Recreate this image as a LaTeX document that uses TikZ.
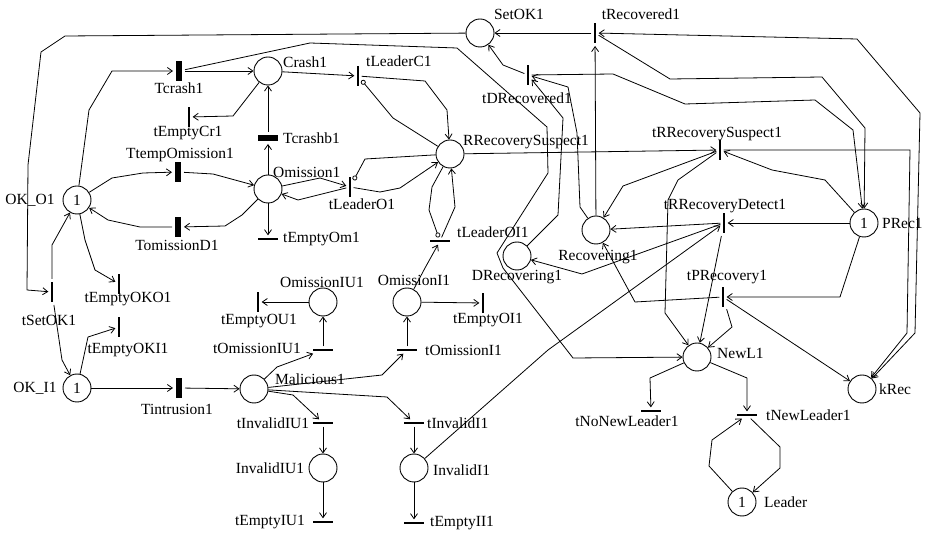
\documentclass[tikz,border=0pt]{standalone}
\usepackage{fontspec}
\setmainfont{Liberation Serif}
\usetikzlibrary{arrows.meta}
\begin{document}
\begin{tikzpicture}[x=1pt,y=-1pt,
  every node/.style={font=\fontsize{15.5}{17}\selectfont},
  place/.style={circle,draw,line width=0.9pt,minimum size=28pt,inner sep=0pt},
  tv/.style={rectangle,fill=black,minimum width=1.3pt,minimum height=20pt,inner sep=0pt,outer sep=3pt},
  th/.style={rectangle,fill=black,minimum width=20pt,minimum height=1.3pt,inner sep=0pt,outer sep=3pt},
  Tv/.style={rectangle,fill=black,minimum width=6pt,minimum height=20pt,inner sep=0pt,outer sep=3pt},
  Th/.style={rectangle,fill=black,minimum width=20pt,minimum height=6pt,inner sep=0pt,outer sep=3pt},
  lab/.style={inner sep=0pt},
  arc/.style={-{Straight Barb[length=5pt,width=7pt]},line width=0.8pt},
  inh/.style={-{Circle[open,length=5pt,width=5pt]},line width=0.8pt},
  twoway/.style={{Straight Barb[length=5pt,width=7pt]}-{Straight Barb[length=5pt,width=7pt]},line width=0.8pt},
  line join=round]
\useasboundingbox (0,0) rectangle (930,534);

% ---------- places ----------
\node[place] (SetOK) at (480,33) {};
\node[place] (Crash) at (268,71) {};
\node[place] (Omission) at (268,189) {};
\node[place] (OKO) at (77,200) {1};
\node[place] (OKI) at (77,388) {1};
\node[place] (Malicious) at (254,389) {};
\node[place] (OmissionIU) at (323,302) {};
\node[place] (OmissionI) at (407,302) {};
\node[place] (InvalidIU) at (323,468) {};
\node[place] (InvalidI) at (414,468) {};
\node[place] (RRS) at (450,154) {};
\node[place] (DRec) at (517,256) {};
\node[place] (Rec) at (596,230) {};
\node[place] (PRec) at (864,223) {1};
\node[place] (NewL) at (697,357) {};
\node[place] (Leader) at (742,502) {1};
\node[place] (kRec) at (862,389) {};

% ---------- transitions ----------
\node[tv] (tRecovered) at (595,33) {};
\node[Tv] (Tcrash) at (179,71) {};
\node[tv] (tEmptyCr) at (189,117) {};
\node[Th] (Tcrashb) at (268,138) {};
\node[Tv] (TtempOm) at (178,172) {};
\node[Tv] (TomD) at (178,227) {};
\node[th] (tEmptyOm) at (268,239) {};
\node[tv] (tEmptyOKO) at (119,284) {};
\node[tv] (tSetOK) at (52,292) {};
\node[tv] (tEmptyOKI) at (119,327) {};
\node[Tv] (Tintr) at (179,388) {};
\node[th] (tOmIU) at (323,350) {};
\node[tv] (tEmptyOU) at (258,302) {};
\node[th] (tOmI) at (407,350) {};
\node[tv] (tEmptyOI) at (483,303) {};
\node[th] (tLeaderOI) at (440,241) {};
\node[tv] (tLeaderC) at (358,76) {};
\node[tv] (tLeaderO) at (350,187) {};
\node[tv] (tDRecovered) at (528,75) {};
\node[tv] (tRRS) at (720,150) {};
\node[tv] (tRRD) at (724,223) {};
\node[tv] (tPRec) at (723,297) {};
\node[th] (tNoNewL) at (651,411) {};
\node[th] (tNewL) at (747,415) {};
\node[th] (tInvalidIU) at (323,423) {};
\node[th] (tEmptyIU) at (323,522) {};
\node[th] (tInvalidI) at (414,423) {};
\node[th] (tEmptyII) at (414,523) {};

% ---------- labels ----------
\node[lab] (lSetOK) at (519,14) {SetOK1};
\node[lab] (ltRecovered) at (641,14) {tRecovered1};
\node[lab,anchor=west] (lCrash) at (283,62) {Crash1};
\node[lab] (lTcrash) at (179,88) {Tcrash1};
\node[lab] (ltEmptyCr) at (188,133) {tEmptyCr1};
\node[lab,anchor=west] (lTcrashb) at (283,138) {Tcrashb1};
\node[lab] (lTtempOm) at (180,155) {TtempOmission1};
\node[lab,anchor=west] (lOmission) at (273,172) {Omission1};
\node[lab] (lOKO) at (30,200) {OK\_O1};
\node[lab] (lTomD) at (177,245) {TomissionD1};
\node[lab,anchor=west] (ltEmptyOm) at (283,239) {tEmptyOm1};
\node[lab] (ltEmptyOKO) at (128,299) {tEmptyOKO1};
\node[lab] (ltSetOK) at (49,320) {tSetOK1};
\node[lab] (ltEmptyOKI) at (128,350) {tEmptyOKI1};
\node[lab] (lOKI) at (35,388) {OK\_I1};
\node[lab] (lTintr) at (177,409) {Tintrusion1};
\node[lab,anchor=west] (lMalicious) at (275,379) {Malicious1};
\node[lab] (ltOmIU) at (257,348) {tOmissionIU1};
\node[lab] (lOmissionIU) at (322,282) {OmissionIU1};
\node[lab] (ltEmptyOU) at (259,321) {tEmptyOU1};
\node[lab] (lOmissionI) at (414,280) {OmissionI1};
\node[lab] (ltEmptyOI) at (488,320) {tEmptyOI1};
\node[lab,anchor=west] (ltOmI) at (425,350) {tOmissionI1};
\node[lab,anchor=west] (ltLeaderOI) at (457,232) {tLeaderOI1};
\node[lab] (lDRec) at (517,277) {DRecovering1};
\node[lab] (lRec) at (598,257) {Recovering1};
\node[lab,anchor=west] (lRRS) at (463,142) {RRecoverySuspect1};
\node[lab,anchor=west] (ltLeaderC) at (366,61) {tLeaderC1};
\node[lab] (ltLeaderO) at (362,204) {tLeaderO1};
\node[lab] (ltDRecovered) at (527,98) {tDRecovered1};
\node[lab] (ltRRS) at (717,134) {tRRecoverySuspect1};
\node[lab] (ltRRD) at (725,206) {tRRecoveryDetect1};
\node[lab] (ltPRec) at (727,277) {tPRecovery1};
\node[lab,anchor=west] (lPRec) at (882,223) {PRec1};
\node[lab,anchor=west] (lNewL) at (717,353) {NewL1};
\node[lab] (ltNoNewL) at (627,421) {tNoNewLeader1};
\node[lab,anchor=west] (ltNewL) at (766,415) {tNewLeader1};
\node[lab,anchor=west] (lLeader) at (764,502) {Leader};
\node[lab,anchor=west] (lkRec) at (879,389) {kRec};
\node[lab] (ltInvalidIU) at (273,423) {tInvalidIU1};
\node[lab] (lInvalidIU) at (270,468) {InvalidIU1};
\node[lab] (ltEmptyIU) at (270,522) {tEmptyIU1};
\node[lab,anchor=west] (ltInvalidI) at (427,423) {tInvalidI1};
\node[lab,anchor=west] (lInvalidI) at (433,470) {InvalidI1};
\node[lab,anchor=west] (ltEmptyII) at (430,523) {tEmptyII1};

% ---------- arcs: OK_O1 / crash / omission part ----------
\draw[arc] (SetOK) -- (65,36) -- (41,52) -- (28,165) -- (27,290) -- (tSetOK);
\draw[arc] (tSetOK) -- (52,245) -- (OKO);
\draw[arc] (tSetOK) -- (62,360) -- (OKI);
\draw[arc] (OKO) -- (89,110) -- (112,71) -- (Tcrash);
\draw[arc] (Tcrash) -- (Crash);
\draw[arc] (Tcrash) -- (310,43) -- (457,48) -- (547,127) -- (548,173) -- (497,253) -- (503,268) -- (573,358) -- (NewL);
\draw[arc] (Crash) -- (233,116) -- (tEmptyCr);
\draw[arc] (Tcrashb) -- (Crash);
\draw[arc] (Omission) -- (Tcrashb);
\draw[arc] (OKO) -- (112,178) -- (143,173) -- (TtempOm);
\draw[arc] (TtempOm) -- (213,174) -- (Omission);
\draw[arc] (Omission) -- (242,215) -- (225,226) -- (TomD);
\draw[arc] (TomD) -- (140,227) -- (108,220) -- (OKO);
\draw[arc] (Omission) -- (tEmptyOm);
\draw[arc] (OKO) -- (85,240) -- (95,270) -- (tEmptyOKO);
\draw[arc] (OKI) -- (88,337) -- (tEmptyOKI);
\draw[arc] (OKI) -- (Tintr);
\draw[arc] (Tintr) -- (Malicious);

% ---------- intrusion part ----------
\draw[arc] (Malicious) -- (277,367) -- (tOmIU);
\draw[arc] (Malicious) -- (382,375) -- (tOmI);
\draw[arc] (Malicious) -- (387,397) -- (tInvalidI);
\draw[arc] (Malicious) -- (293,395) -- (tInvalidIU);
\draw[arc] (tOmIU) -- (OmissionIU);
\draw[arc] (OmissionIU) -- (tEmptyOU);
\draw[arc] (tOmI) -- (OmissionI);
\draw[arc] (OmissionI) -- (tEmptyOI);
\draw[arc] (OmissionI) -- (425,268) -- (tLeaderOI);
\draw[arc] (tInvalidIU) -- (InvalidIU);
\draw[arc] (InvalidIU) -- (tEmptyIU);
\draw[arc] (tInvalidI) -- (InvalidI);
\draw[arc] (InvalidI) -- (tEmptyII);
\draw[arc] (InvalidI) -- (548,350) -- (tRRD);

% ---------- leader transitions ----------
\draw[arc] (Crash) -- (tLeaderC);
\draw[arc] (tLeaderC) -- (425,81) -- (447,110) -- (RRS);
\draw[inh] (RRS) -- (393,118) -- (tLeaderC);
\draw[arc] (Omission) -- (320,178) -- (tLeaderO);
\draw[arc] (tLeaderO) -- (298,200) -- (Omission);
\draw[arc] (tLeaderO) -- (380,192) -- (400,188) -- (RRS);
\draw[inh] (RRS) -- (365,159) -- (tLeaderO);
\draw[arc] (tLeaderOI) -- (455,207) -- (RRS);
\draw[inh] (RRS) -- (432,187) -- (429,210) -- (tLeaderOI);

% ---------- recovery part ----------
\draw[arc] (RRS) -- (tRRS);
\draw[arc] (tRRS) -- (623,186) -- (Rec);
\draw[arc] (tRRS) -- (678,180) -- (668,200) -- (665,313) -- (NewL);
\draw[arc] (PRec) -- (825,180) -- (772,170) -- (tRRS);
\draw[arc] (tRRS) -- (910,150) -- (907,333) -- (kRec);
\draw[arc] (PRec) -- (tRRD);
\draw[arc] (PRec) -- (840,297) -- (tPRec);
\draw[arc] (tRRD) -- (Rec);
\draw[arc] (tRRD) -- (582,274) -- (DRec);
\draw[arc] (tRRD) -- (NewL);
\draw[arc] (tPRec) -- (732,327) -- (NewL);
\draw[arc] (tPRec) -- (kRec);
\draw[arc] (tPRec) -- (635,302) -- (Rec);
\draw[arc] (Rec) -- (tRecovered);
\draw[arc] (Rec) -- (580,207) -- (577,133) -- (568,87) -- (tDRecovered);
\draw[arc] (DRec) -- (558,215) -- (563,118) -- (tDRecovered);
\draw[arc] (tRecovered) -- (SetOK);
\draw[arc] (tDRecovered) -- (503,65) -- (SetOK);
\draw[arc] (tRecovered) -- (670,79) -- (822,77) -- (865,128) -- (PRec);
\draw[arc] (tDRecovered) -- (613,74) -- (685,104) -- (815,100) -- (853,130) -- (PRec);
\draw[twoway] (kRec) -- (915,333) -- (920,113) -- (857,39) -- (tRecovered);

% ---------- new leader part ----------
\draw[arc] (NewL) -- (650,378) -- (tNoNewL);
\draw[arc] (NewL) -- (747,378) -- (tNewL);
\draw[arc] (tNewL) -- (780,447) -- (780,468) -- (Leader);
\draw[arc] (Leader) -- (709,466) -- (712,440) -- (tNewL);
\end{tikzpicture}
\end{document}
